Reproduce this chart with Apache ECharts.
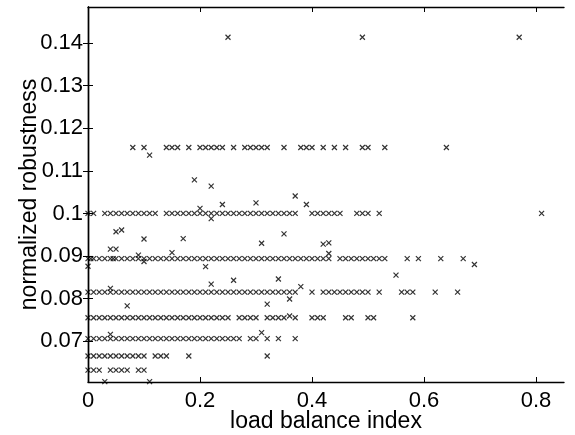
<!DOCTYPE html>
<html>
<head>
<meta charset="utf-8">
<script src="https://cdn.jsdelivr.net/npm/echarts@6/dist/echarts.min.js"></script>
<style>html,body{margin:0;padding:0;background:#fff}#c{width:575px;height:435px}</style>
</head>
<body>
<div id="c"></div>
<script>
// Tick labels
var xTicks = [0, 0.2, 0.4, 0.6, 0.8];
var yTicks = [0.07, 0.08, 0.09, 0.1, 0.11, 0.12, 0.13, 0.14];

// Rows of points (x values) sharing the same robustness level
var rowLevels = [0.1414, 0.1155, 0.1, 0.0894, 0.0815, 0.0755, 0.0706, 0.0665, 0.0632, 0.0605];
var row1414 = [0.25, 0.49, 0.77];
var row1155 = [0.08,0.1,0.14,0.15,0.16,0.18,0.2,0.21,0.22,0.23,0.24,0.26,0.28,0.29,0.3,0.31,0.32,0.35,0.38,0.39,0.4,0.42,0.44,0.46,0.49,0.5,0.53,0.64];
var row1000 = [0,0.01,0.03,0.04,0.05,0.06,0.07,0.08,0.09,0.1,0.11,0.12,0.14,0.15,0.16,0.17,0.18,0.19,0.2,0.21,0.22,0.23,0.24,0.25,0.26,0.27,0.28,0.29,0.3,0.31,0.32,0.33,0.34,0.35,0.36,0.37,0.4,0.41,0.42,0.43,0.44,0.45,0.48,0.49,0.5,0.52,0.81];
var row0894 = [0,0.005,0.01,0.02,0.03,0.04,0.045,0.05,0.06,0.07,0.08,0.09,0.1,0.11,0.12,0.13,0.14,0.15,0.16,0.17,0.18,0.19,0.2,0.21,0.22,0.23,0.24,0.25,0.26,0.27,0.28,0.29,0.3,0.31,0.32,0.33,0.34,0.35,0.36,0.37,0.38,0.39,0.4,0.41,0.42,0.43,0.45,0.46,0.47,0.48,0.49,0.5,0.51,0.52,0.53,0.57,0.59,0.63,0.67];
var row0815 = [0,0.01,0.02,0.03,0.04,0.05,0.06,0.07,0.08,0.09,0.1,0.11,0.12,0.13,0.14,0.15,0.16,0.17,0.18,0.19,0.2,0.21,0.22,0.23,0.24,0.25,0.26,0.27,0.28,0.29,0.3,0.31,0.32,0.33,0.34,0.35,0.36,0.37,0.4,0.42,0.43,0.44,0.45,0.46,0.47,0.48,0.49,0.5,0.52,0.56,0.57,0.58,0.62,0.66];
var row0755 = [0,0.01,0.02,0.03,0.04,0.05,0.06,0.07,0.08,0.09,0.1,0.11,0.12,0.13,0.14,0.15,0.16,0.17,0.18,0.19,0.2,0.21,0.22,0.23,0.24,0.25,0.27,0.28,0.29,0.3,0.32,0.33,0.34,0.35,0.37,0.4,0.41,0.42,0.46,0.47,0.5,0.51,0.58];
var row0706 = [0,0.01,0.02,0.03,0.04,0.05,0.06,0.07,0.08,0.09,0.1,0.11,0.12,0.13,0.14,0.15,0.16,0.17,0.18,0.19,0.2,0.21,0.22,0.23,0.24,0.25,0.26,0.27,0.29,0.3,0.32,0.34,0.37];
var row0665 = [0,0.01,0.02,0.03,0.04,0.05,0.06,0.07,0.08,0.09,0.1,0.12,0.13,0.14,0.18,0.32];
var row0632 = [0,0.01,0.02,0.04,0.05,0.06,0.07,0.09,0.1];
var row0605 = [0.03, 0.11];
var rows = [row1414, row1155, row1000, row0894, row0815, row0755, row0706, row0665, row0632, row0605];

// Individual scattered points [load balance index, normalized robustness]
var extraPoints = [
  [0.11,0.1137],[0.19,0.1079],[0.22,0.1064],[0.37,0.1041],[0.24,0.1021],[0.30,0.1025],
  [0.39,0.1021],[0.20,0.1012],[0.22,0.0988],[0.05,0.0957],[0.06,0.0961],[0.10,0.0940],
  [0.17,0.0941],[0.35,0.0952],[0.31,0.0930],[0.42,0.0928],[0.43,0.0931],[0.43,0.0906],
  [0.04,0.0916],[0.05,0.0916],[0.15,0.0908],[0.09,0.0902],[0.10,0.0887],[0,0.0876],
  [0.21,0.0875],[0.69,0.0880],[0.55,0.0855],[0.26,0.0843],[0.34,0.0846],[0.22,0.0834],
  [0.38,0.0828],[0.04,0.0824],[0.07,0.0783],[0.32,0.0787],[0.36,0.0799],[0.36,0.0759],
  [0.31,0.0720],[0.04,0.0716]
];

var points = [];
rows.forEach(function (r, i) {
  r.forEach(function (x) { points.push([x, rowLevels[i]]); });
});
extraPoints.forEach(function (p) { points.push(p); });

var FONT = 'Liberation Sans';
var chart = echarts.init(document.getElementById('c'), null, {renderer: 'canvas'});
var tickStyle = {show: true, inside: true, length: 5, lineStyle: {color: '#000', width: 1}};
var lineStyle = {show: true, lineStyle: {color: '#000', width: 1.4}};
chart.setOption({
  animation: false,
  backgroundColor: '#fff',
  grid: {left: 88, right: 11, top: 7, bottom: 53, containLabel: false, outerBoundsMode: 'none'},
  xAxis: [{
    type: 'value', position: 'bottom', min: 0, max: 0.85,
    name: 'load balance index', nameLocation: 'middle', nameGap: 28, nameMoveOverlap: false,
    nameTextStyle: {fontFamily: FONT, fontSize: 23, color: '#000'},
    axisLine: lineStyle,
    axisTick: Object.assign({customValues: xTicks}, tickStyle),
    axisLabel: {customValues: xTicks, fontFamily: FONT, fontSize: 22, color: '#000', margin: 8},
    splitLine: {show: false}
  }, {
    type: 'value', position: 'top', min: 0, max: 0.85,
    axisLine: lineStyle,
    axisTick: Object.assign({customValues: xTicks}, tickStyle),
    axisLabel: {show: false},
    splitLine: {show: false}
  }],
  yAxis: [{
    type: 'value', position: 'left', min: 0.0604, max: 0.1485,
    name: 'normalized robustness', nameLocation: 'middle', nameGap: 47, nameMoveOverlap: false,
    nameTextStyle: {fontFamily: FONT, fontSize: 23, color: '#000'},
    axisLine: lineStyle,
    axisTick: Object.assign({customValues: yTicks}, tickStyle),
    axisLabel: {customValues: yTicks, fontFamily: FONT, fontSize: 22, color: '#000', margin: 5,
      formatter: function (v) { return String(+v.toFixed(2)); }},
    splitLine: {show: false}
  }, {
    type: 'value', position: 'right', min: 0.0604, max: 0.1485,
    axisLine: lineStyle,
    axisTick: Object.assign({customValues: yTicks}, tickStyle),
    axisLabel: {show: false},
    splitLine: {show: false}
  }],
  series: [{
    type: 'scatter',
    xAxisIndex: 0, yAxisIndex: 0,
    clip: false,
    symbol: 'path://M0,0L10,10M10,0L0,10',
    symbolSize: 5,
    itemStyle: {color: 'rgba(0,0,0,0)', borderColor: '#000', borderWidth: 1.2},
    data: points
  }]
});
</script>
</body>
</html>
